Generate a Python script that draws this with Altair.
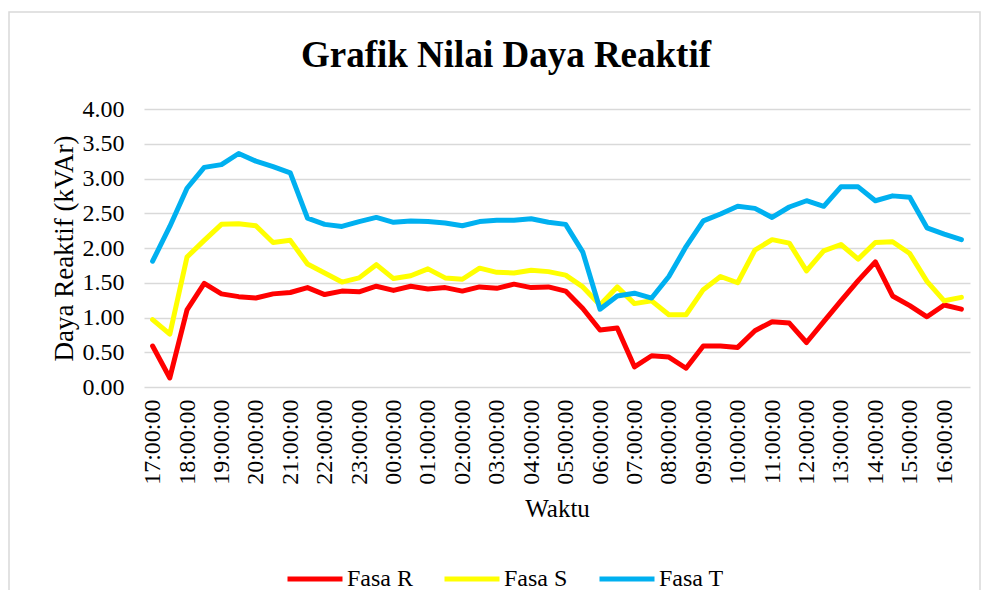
import altair as alt
import pandas as pd

times = ["17:00:00", "17:30:00", "18:00:00", "18:30:00", "19:00:00", "19:30:00",
         "20:00:00", "20:30:00", "21:00:00", "21:30:00", "22:00:00", "22:30:00",
         "23:00:00", "23:30:00", "00:00:00", "00:30:00", "01:00:00", "01:30:00",
         "02:00:00", "02:30:00", "03:00:00", "03:30:00", "04:00:00", "04:30:00",
         "05:00:00", "05:30:00", "06:00:00", "06:30:00", "07:00:00", "07:30:00",
         "08:00:00", "08:30:00", "09:00:00", "09:30:00", "10:00:00", "10:30:00",
         "11:00:00", "11:30:00", "12:00:00", "12:30:00", "13:00:00", "13:30:00",
         "14:00:00", "14:30:00", "15:00:00", "15:30:00", "16:00:00", "16:30:00"]

hour_labels = ["17:00:00", "18:00:00", "19:00:00", "20:00:00", "21:00:00", "22:00:00",
               "23:00:00", "00:00:00", "01:00:00", "02:00:00", "03:00:00", "04:00:00",
               "05:00:00", "06:00:00", "07:00:00", "08:00:00", "09:00:00", "10:00:00",
               "11:00:00", "12:00:00", "13:00:00", "14:00:00", "15:00:00", "16:00:00"]

fasa_r = [0.59, 0.13, 1.11, 1.49, 1.34, 1.30, 1.28, 1.34, 1.36, 1.43, 1.33, 1.38,
          1.37, 1.45, 1.39, 1.45, 1.41, 1.43, 1.38, 1.44, 1.42, 1.48, 1.43, 1.44,
          1.38, 1.13, 0.82, 0.85, 0.29, 0.45, 0.43, 0.27, 0.59, 0.59, 0.57, 0.81,
          0.94, 0.92, 0.64, 0.94, 1.24, 1.53, 1.80, 1.31, 1.17, 1.01, 1.18, 1.12]

fasa_s = [0.97, 0.76, 1.87, 2.11, 2.34, 2.35, 2.32, 2.08, 2.11, 1.77, 1.64, 1.51,
          1.57, 1.76, 1.56, 1.60, 1.70, 1.57, 1.55, 1.71, 1.65, 1.64, 1.68, 1.66,
          1.61, 1.44, 1.18, 1.44, 1.20, 1.24, 1.04, 1.04, 1.40, 1.59, 1.50, 1.97,
          2.12, 2.07, 1.67, 1.96, 2.05, 1.84, 2.08, 2.09, 1.92, 1.52, 1.24, 1.29]

fasa_t = [1.81, 2.31, 2.86, 3.16, 3.20, 3.36, 3.25, 3.17, 3.08, 2.43, 2.34, 2.31,
          2.38, 2.44, 2.37, 2.39, 2.38, 2.36, 2.32, 2.38, 2.40, 2.40, 2.42, 2.37,
          2.34, 1.94, 1.12, 1.31, 1.35, 1.28, 1.59, 2.02, 2.39, 2.49, 2.60, 2.57,
          2.44, 2.59, 2.68, 2.60, 2.88, 2.88, 2.68, 2.75, 2.73, 2.29, 2.20, 2.12]

series_names = ["Fasa R", "Fasa S", "Fasa T"]
series_colors = ["#FF0000", "#FFFF00", "#00B0F0"]
y_ticks = [0, 0.5, 1, 1.5, 2, 2.5, 3, 3.5, 4]

rows = []
for name, vals in zip(series_names, [fasa_r, fasa_s, fasa_t]):
    for t, v in zip(times, vals):
        rows.append({"Waktu": t, "Fasa": name, "Nilai": v})
df = pd.DataFrame(rows)

FONT = "Liberation Serif"
W, H = 826, 278

lines = alt.Chart(df).mark_line(strokeWidth=5, strokeCap="round", strokeJoin="round").encode(
    x=alt.X("Waktu:N", sort=times,
            scale=alt.Scale(type="point", padding=0.5),
            axis=alt.Axis(title="Waktu", values=hour_labels, labelAngle=-90,
                          labelFont=FONT, labelFontSize=24, labelColor="#000000",
                          labelPadding=12, ticks=False, domain=False, grid=False,
                          titleFont=FONT, titleFontSize=25, titleFontWeight="normal",
                          titleColor="#000000", titlePadding=12, labelOverlap=False)),
    y=alt.Y("Nilai:Q",
            scale=alt.Scale(domain=[0, 4], nice=False),
            axis=alt.Axis(title="Daya Reaktif (kVAr)", values=y_ticks, format=".2f",
                          labelFont=FONT, labelFontSize=24, labelColor="#000000",
                          labelPadding=20, ticks=False, domain=False,
                          grid=True, gridColor="#D9D9D9", gridWidth=1.5,
                          titleFont=FONT, titleFontSize=27, titleFontWeight="normal",
                          titleColor="#000000", titlePadding=4)),
    color=alt.Color("Fasa:N",
                    scale=alt.Scale(domain=series_names, range=series_colors),
                    legend=alt.Legend(title=None, orient="none", direction="horizontal",
                                      legendX=141, legendY=440,
                                      symbolType="stroke", symbolSize=3025,
                                      symbolStrokeWidth=5,
                                      labelFont=FONT, labelFontSize=24,
                                      labelColor="#000000", labelOffset=2,
                                      labelLimit=300,
                                      columnPadding=21, padding=0)),
)

frame = alt.Chart(alt.Data(values=[{}])).mark_rect(
    fill="transparent", stroke="#D9D9D9", strokeWidth=1.5
).encode(
    x=alt.value(-135), x2=alt.value(836),
    y=alt.value(-97), y2=alt.value(560),
)

chart = alt.layer(frame, lines).properties(
    width=W, height=H,
    autosize=alt.AutoSizeParams(type="none"),
    padding={"left": 136, "top": 101, "right": 12, "bottom": 203},
    title=alt.TitleParams("Grafik Nilai Daya Reaktif", font=FONT, fontSize=37,
                          fontWeight="bold", color="#000000", anchor="middle",
                          baseline="alphabetic", dx=-51, dy=93, offset=0),
).configure_view(stroke=None).configure_legend(
    labelFont=FONT, labelFontSize=24, labelColor="#000000"
).configure_text(font=FONT)

chart.save("out.html", embed_options={"renderer": "svg", "actions": False})
